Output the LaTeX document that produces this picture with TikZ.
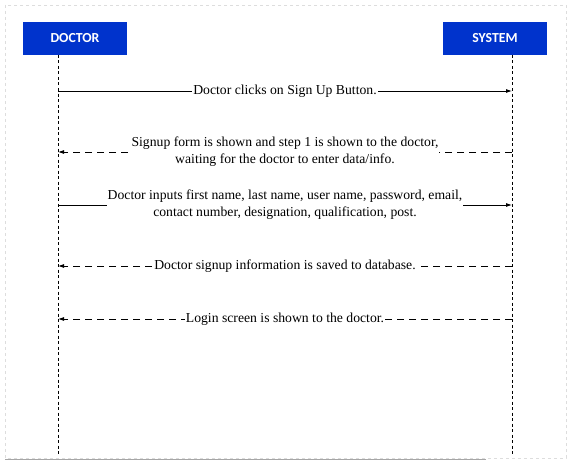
\documentclass[tikz,border=0pt]{standalone}
\usepackage{fontspec}
\setmainfont{Liberation Serif}
\newfontfamily\hdrfont{Carlito}
\usetikzlibrary{arrows.meta}
\definecolor{hdrblue}{HTML}{0033CC}
\definecolor{frame}{HTML}{DDDDDD}
\tikzset{
  x=1pt, y=-1pt,
  actor/.style={fill=hdrblue, draw=none, minimum width=104pt, minimum height=33pt, inner sep=0pt, text=white, font=\hdrfont\bfseries\fontsize{13.8}{15}\selectfont},
  lifeline/.style={draw=black, line width=0.8pt, dash pattern=on 3pt off 2.5pt},
  msg/.style={draw=black, line width=0.8pt, -{Latex[length=6pt,width=4pt]}},
  reply/.style={msg, dash pattern=on 7pt off 5pt},
  lbl/.style={fill=white, inner sep=1pt, align=center, font=\fontsize{13.7}{17}\selectfont}
}
\begin{document}
\begin{tikzpicture}
\useasboundingbox (0,0) rectangle (573,460);
\draw[frame, dashed, line width=0.7pt] (5,5) rectangle (566,458);
\draw[gray!70, line width=1pt] (5,459) -- (486,459);
\node[actor] (doc) at (75,38.5) {DOCTOR};
\node[actor] (sys) at (495,38.5) {SYSTEM};
\coordinate (docend) at (58,455);
\coordinate (sysend) at (512,455);
\draw[lifeline] (58,55) -- (docend);
\draw[lifeline] (512,55) -- (sysend);
% messages
\coordinate (d1) at (58,91); \coordinate (s1) at (512,91);
\coordinate (d2) at (58,152); \coordinate (s2) at (512,152);
\coordinate (d3) at (58,205); \coordinate (s3) at (512,205);
\coordinate (d4) at (58,266); \coordinate (s4) at (512,266);
\coordinate (d5) at (58,319); \coordinate (s5) at (512,319);
\draw[msg] (d1) -- (s1);
\node[lbl] (m1) at (285,91) {Doctor clicks on Sign Up Button.};
\draw[reply] (s2) -- (d2);
\node[lbl] (m2) at (285,152) {Signup form is shown and step 1 is shown to the doctor,\\waiting for the doctor to enter data/info.};
\draw[msg] (d3) -- (s3);
\node[lbl] (m3) at (285,205) {Doctor inputs first name, last name, user name, password, email,\\contact number, designation, qualification, post.};
\draw[reply] (s4) -- (d4);
\node[lbl] (m4) at (285,266) {Doctor signup information is saved to database.};
\draw[reply] (s5) -- (d5);
\node[lbl] (m5) at (285,319) {Login screen is shown to the doctor.};
\end{tikzpicture}
\end{document}
